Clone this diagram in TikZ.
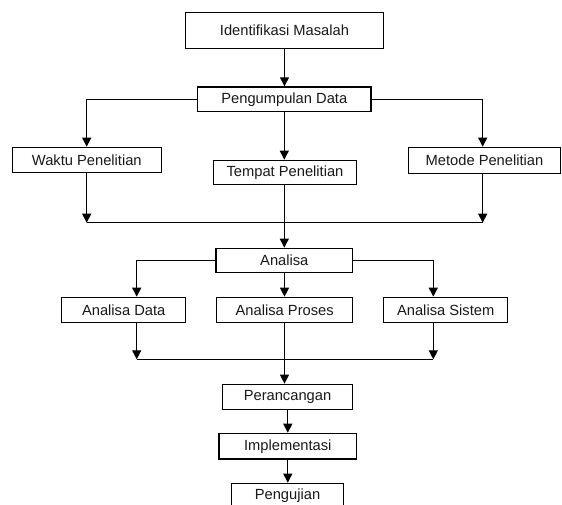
\documentclass[tikz,border=0pt]{standalone}
\usepackage{fontspec}
\setmainfont{Liberation Sans}
\usetikzlibrary{arrows.meta}

\begin{document}
\begin{tikzpicture}[x=1pt,y=1pt,yscale=-1,xscale=1,
    kotak/.style={draw=black,line width=1.3pt,fill=white,inner sep=0pt,
        font=\fontsize{14.7}{17}\selectfont,text=black!90},
    panah/.style={draw=black,line width=1.3pt,-{Triangle[length=9pt,width=9pt]}},
    garis/.style={draw=black,line width=1.3pt}]
    \useasboundingbox (0,0) rectangle (562,504);

    %Shape: Rectangle (tahap utama)
    \node [kotak,minimum width=197.6pt,minimum height=36pt] (ident) at (284.5,30.3) {Identifikasi Masalah};
    \node [kotak,minimum width=173.3pt,minimum height=24.7pt] (kumpul) at (284.3,99.3) {Pengumpulan Data};
    %Shape: Rectangle (cabang pengumpulan)
    \node [kotak,minimum width=149pt,minimum height=25.4pt] (waktu) at (86.8,160) {Waktu Penelitian};
    \node [kotak,minimum width=143.4pt,minimum height=24pt] (tempat) at (285,172.3) {Tempat Penelitian};
    \node [kotak,minimum width=152.4pt,minimum height=26pt] (metode) at (484.5,160.3) {Metode Penelitian};
    \node [kotak,minimum width=136.7pt,minimum height=24.4pt] (analisa) at (284.3,260.5) {Analisa};
    %Shape: Rectangle (cabang analisa)
    \node [kotak,minimum width=124pt,minimum height=25pt] (adata) at (123.7,309.8) {Analisa Data};
    \node [kotak,minimum width=136pt,minimum height=25pt] (aproses) at (284.7,309.8) {Analisa Proses};
    \node [kotak,minimum width=124pt,minimum height=25pt] (asistem) at (445.7,309.8) {Analisa Sistem};
    %Shape: Rectangle (tahap akhir)
    \node [kotak,minimum width=130.4pt,minimum height=25pt] (rancang) at (287.5,396.8) {Perancangan};
    \node [kotak,minimum width=137.7pt,minimum height=25.7pt] (implem) at (287.8,446.2) {Implementasi};
    \node [kotak,minimum width=111.6pt,minimum height=25.4pt] (uji) at (287.5,496) {Pengujian};

    %titik pertemuan garis
    \coordinate (jl) at (86.7,222.7);
    \coordinate (jr) at (482.7,222.7);
    \coordinate (kl) at (136.7,359.3);
    \coordinate (kr) at (433.3,359.3);

    %Straight Lines
    \draw [panah] (ident.south) -- (kumpul.north -| ident.south);
    \draw [panah] (kumpul.west) -| (jl |- waktu.north);
    \draw [panah] (kumpul.east) -| (jr |- metode.north);
    \draw [panah] (kumpul.south) -- (kumpul.south |- tempat.north);
    \draw [panah] (waktu.south -| jl) -- (jl);
    \draw [panah] (metode.south -| jr) -- (jr);
    \draw [garis] (jl) -- (jr);
    \draw [panah] (tempat.south -| kumpul.south) -- (analisa.north -| kumpul.south);

    \draw [panah] (analisa.west) -| (kl |- adata.north);
    \draw [panah] (analisa.east) -| (kr |- asistem.north);
    \draw [panah] (analisa.south -| ident.south) -- (aproses.north -| ident.south);
    \draw [panah] (adata.south -| kl) -- (kl);
    \draw [panah] (asistem.south -| kr) -- (kr);
    \draw [garis] (kl) -- (kr);
    \draw [panah] (aproses.south -| ident.south) -- (rancang.north -| ident.south);

    \draw [panah] (rancang.south -| implem.north) -- (implem.north);
    \draw [panah] (implem.south) -- (uji.north -| implem.south);
\end{tikzpicture}
\end{document}
